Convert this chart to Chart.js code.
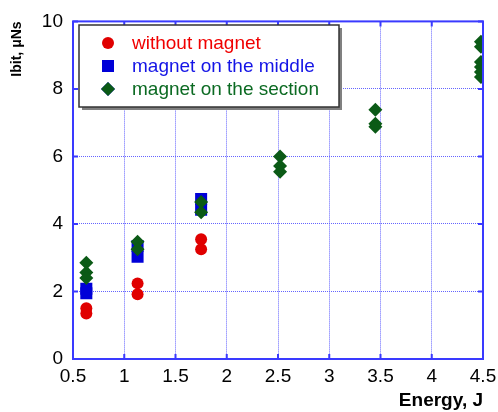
<!DOCTYPE html>
<html>
<head>
<meta charset="utf-8">
<script src="https://cdn.jsdelivr.net/npm/chart.js@4"></script>
<style>
  body { margin: 0; background: #fff; }
  #wrap { width: 498px; height: 412px; }
</style>
</head>
<body>
<div id="wrap"><canvas id="grafico" width="498" height="412"></canvas></div>
<script>
// series: [energy J, Ibit uNs]
const seriesNames = ['without magnet', 'magnet on the middle', 'magnet on the section'];
const withoutMagnet = [[0.63, 1.5], [0.63, 1.35], [1.13, 2.24], [1.13, 1.92], [1.75, 3.55], [1.75, 3.25]];
const magnetMiddle = [[0.63, 2.08], [0.63, 1.95], [1.13, 3.35], [1.13, 3.03], [1.75, 4.74], [1.75, 4.42]];
const magnetSection = [
    [0.63, 2.85], [0.63, 2.56], [0.63, 2.4],
    [1.13, 3.47], [1.13, 3.25],
    [1.75, 4.65], [1.75, 4.35],
    [2.52, 6.0], [2.52, 5.72], [2.52, 5.55],
    [3.45, 7.38], [3.45, 6.97], [3.45, 6.88],
    [4.48, 9.4], [4.48, 9.25], [4.48, 8.8], [4.48, 8.65], [4.48, 8.5], [4.48, 8.35]
];
const xTicks = [0.5, 1, 1.5, 2, 2.5, 3, 3.5, 4, 4.5];
const yTicks = [0, 2, 4, 6, 8, 10];

const axisBlue = '#3a3aff';
const gridBlue = '#6464ff';

function toPoints(arr) {
    return arr.map(p => ({ x: p[0], y: p[1] }));
}

// frame on all four sides with small inward ticks
const frame = {
    id: 'frame',
    afterDatasetsDraw(chart) {
        const { ctx, chartArea: a, scales } = chart;
        ctx.save();
        ctx.strokeStyle = axisBlue;
        ctx.lineWidth = 2;
        ctx.strokeRect(a.left, a.top, a.right - a.left, a.bottom - a.top);
        ctx.beginPath();
        xTicks.forEach(v => {
            const px = scales.x.getPixelForValue(v);
            ctx.moveTo(px, a.bottom); ctx.lineTo(px, a.bottom - 5);
            ctx.moveTo(px, a.top); ctx.lineTo(px, a.top + 5);
        });
        yTicks.forEach(v => {
            const py = scales.y.getPixelForValue(v);
            ctx.moveTo(a.left, py); ctx.lineTo(a.left + 5, py);
            ctx.moveTo(a.right, py); ctx.lineTo(a.right - 5, py);
        });
        ctx.stroke();
        ctx.restore();
    }
};

// boxed legend inside the plot, like the original
const boxLegend = {
    id: 'boxLegend',
    afterDraw(chart) {
        const ctx = chart.ctx;
        const x0 = 79, y0 = 25, w = 260, h = 82;
        ctx.save();
        ctx.fillStyle = '#808080';
        ctx.fillRect(x0 + 3, y0 + 3, w, h);
        ctx.fillStyle = '#fff';
        ctx.fillRect(x0, y0, w, h);
        ctx.strokeStyle = '#333';
        ctx.lineWidth = 1.5;
        ctx.strokeRect(x0, y0, w, h);
        ctx.font = '19px "Liberation Sans", Arial, sans-serif';
        ctx.textBaseline = 'middle';
        chart.data.datasets.forEach((ds, i) => {
            const cy = 43 + i * 23;
            Chart.helpers.drawPoint(ctx, {
                pointStyle: ds.pointStyle,
                radius: ds.pointRadius,
                borderWidth: 0
            }, 108, cy);
            ctx.fillStyle = ds.backgroundColor;
            ctx.fill();
            ctx.fillStyle = ds.textColor;
            ctx.fillText(ds.label, 132, cy + 1);
        });
        ctx.restore();
    }
};

document.addEventListener('DOMContentLoaded', function() {
    const ctx = document.getElementById('grafico').getContext('2d');

    const dados = {
        datasets: [{
            label: seriesNames[0],
            data: toPoints(withoutMagnet),
            pointStyle: 'circle',
            pointRadius: 6,
            backgroundColor: '#e00000',
            borderWidth: 0,
            textColor: '#f00000',
            order: 3
        }, {
            label: seriesNames[1],
            data: toPoints(magnetMiddle),
            pointStyle: 'rect',
            pointRadius: 8.5,
            backgroundColor: '#0000d8',
            borderWidth: 0,
            textColor: '#1414e6',
            order: 2
        }, {
            label: seriesNames[2],
            data: toPoints(magnetSection),
            pointStyle: 'rectRot',
            pointRadius: 7,
            backgroundColor: '#0b5a16',
            borderWidth: 0,
            textColor: '#0b6a22',
            order: 1
        }]
    };

    const tickFont = { family: '"Liberation Sans", Arial, sans-serif', size: 19 };

    const config = {
        type: 'scatter',
        data: dados,
        options: {
            responsive: false,
            animation: false,
            layout: { padding: { top: 20, right: 15, left: 0, bottom: 0 } },
            plugins: {
                legend: { display: false },
                tooltip: { enabled: false }
            },
            scales: {
                x: {
                    type: 'linear',
                    min: 0.5,
                    max: 4.5,
                    afterBuildTicks: s => { s.ticks = xTicks.map(v => ({ value: v })); },
                    afterFit: s => { s.height = 53; s.paddingLeft = 0; s.paddingRight = 0; },
                    grid: { color: gridBlue, lineWidth: 1, drawTicks: false },
                    border: { display: false, dash: [1, 1] },
                    ticks: {
                        color: '#000', font: tickFont, padding: 6, maxRotation: 0, autoSkip: false,
                        callback: v => String(v)
                    },
                    title: {
                        display: true,
                        text: 'Energy, J',
                        align: 'end',
                        color: '#000',
                        font: { family: '"Liberation Sans", Arial, sans-serif', size: 19, weight: 'bold' },
                        padding: { top: 0, bottom: 0 }
                    }
                },
                y: {
                    min: 0,
                    max: 10,
                    afterBuildTicks: s => { s.ticks = yTicks.map(v => ({ value: v })); },
                    afterFit: s => { s.width = 73; },
                    grid: { color: gridBlue, lineWidth: 1, drawTicks: false },
                    border: { display: false, dash: [1, 1] },
                    ticks: { color: '#000', font: tickFont, padding: 10, callback: v => String(v) },
                    title: {
                        display: true,
                        text: 'Ibit, μNs',
                        align: 'end',
                        color: '#000',
                        font: { family: '"Liberation Sans", Arial, sans-serif', size: 14, weight: 'bold' },
                        padding: { top: 9, bottom: 0 }
                    }
                }
            }
        },
        plugins: [frame, boxLegend]
    };

    new Chart(ctx, config);
});
</script>
</body>
</html>
